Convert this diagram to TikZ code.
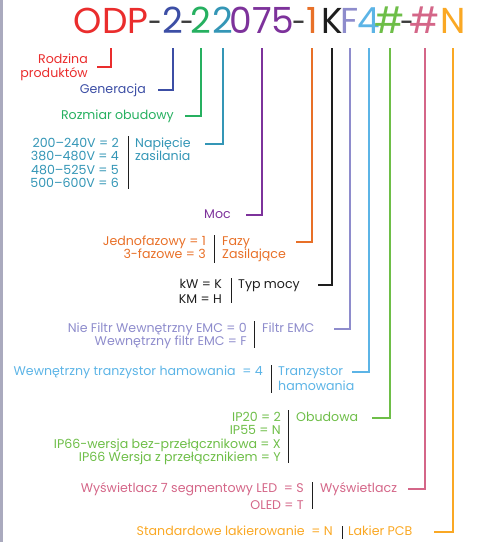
\documentclass[tikz,border=0pt]{standalone}
\usepackage{fontspec}
\setmainfont{Poppins}
\usepackage{graphicx}
\usepackage{tikz}
\usetikzlibrary{positioning}
\definecolor{cRed}{RGB}{234,45,45}
\definecolor{cBlue}{RGB}{60,78,165}
\definecolor{cGreen}{RGB}{38,176,96}
\definecolor{cTeal}{RGB}{52,150,182}
\definecolor{cPurple}{RGB}{125,50,155}
\definecolor{cOrangeD}{RGB}{232,112,40}
\definecolor{cBlack}{RGB}{30,30,30}
\definecolor{cLav}{RGB}{142,140,204}
\definecolor{cSky}{RGB}{92,180,230}
\definecolor{cLime}{RGB}{110,190,72}
\definecolor{cPink}{RGB}{212,102,136}
\definecolor{cOrange}{RGB}{250,168,36}
\definecolor{cDash}{RGB}{60,60,60}
\definecolor{cEdge}{RGB}{170,170,190}
% wiersze wyrownane, linia bazowa = pierwszy wiersz
\newcommand{\rows}[2]{\begin{tabular}[t]{@{}#1@{}}#2\end{tabular}}
\newcommand{\hy}{\scalebox{0.7}[0.85]{-}}
\begin{document}
\begin{tikzpicture}[x=1pt, y=-1pt,
  code/.style={anchor=base, font=\fontsize{36}{36}\selectfont, inner sep=0pt, text depth=0pt, outer ysep=15pt},
  lbl/.style={font=\fontsize{12.6}{13.6}\selectfont, inner sep=0pt},
  vals/.style={lbl, anchor=base east},
  ttl/.style={lbl, anchor=base west},
  lead/.style={line width=1.6pt},
  sepbar/.style={line width=0.8pt, draw=cBlack}]
\useasboundingbox (0,0) rectangle (478,542);
\fill[cEdge] (0,0) rectangle (2.5,542);
% kod produktu
\node[code, text=cRed]     (odp)  at (111,33) {ODP};
\node[code, text=cDash]    (d1)   at (155,33) {\hy};
\node[code, text=cBlue]    (gen2) at (173,33) {2};
\node[code, text=cDash]    (d2)   at (187,33) {\hy};
\node[code, text=cGreen]   (sz2)  at (201,33) {2};
\node[code, text=cTeal]    (nap2) at (223,33) {2};
\node[code, text=cPurple]  (moc)  at (262,33) {075};
\node[code, text=cDash]    (d3)   at (299,33) {\hy};
\node[code, text=cOrangeD] (faz)  at (312,33) {1};
\node[code, text=cBlack]   (typ)  at (332,33) {K};
\node[code, text=cLav]     (emc)  at (350,33) {F};
\node[code, text=cSky]     (trz)  at (369,33) {4};
\node[code, text=cLime]    (obu)  at (390,33) {\#};
\node[code, text=cDash]    (d4)   at (407,33) {\hy};
\node[code, text=cPink]    (wys)  at (425,33) {\#};
\node[code, text=cOrange]  (lak)  at (453,33) {N};
% opisy
\node[vals, text=cRed] (rodzT) at (88,63) {\rows{r}{Rodzina\\produktów}};
\node[vals, text=cBlue] (genT) at (146,93) {Generacja};
\node[vals, text=cGreen] (szT) at (174,119) {Rozmiar obudowy};
\node[vals, text=cTeal] (napV) at (119,147) {\rows{r}{200–240V = 2\\380–480V = 4\\480–525V = 5\\500–600V = 6}};
\node[ttl, text=cTeal] (napT) at (135,147) {\rows{l}{Napięcie\\zasilania}};
\node[vals, text=cPurple] (mocT) at (231,218) {Moc};
\node[vals, text=cOrangeD] (fazV) at (206,245) {\rows{r}{Jednofazowy = 1\\3-fazowe = 3}};
\node[ttl, text=cOrangeD] (fazT) at (222,245) {\rows{l}{Fazy\\Zasilające}};
\node[vals, text=cBlack] (typV) at (222,288) {\rows{r}{kW = K\\[1.5pt]KM = H}};
\node[ttl, text=cBlack] (typT) at (238,288) {Typ mocy};
\node[vals, text=cLav] (emcV) at (247,332) {\rows{r}{Nie Filtr Wewnętrzny EMC = 0\\Wewnętrzny filtr EMC = F}};
\node[ttl, text=cLav] (emcT) at (262,332) {Filtr EMC};
\node[vals, text=cSky] (trzV) at (263,375) {Wewnętrzny tranzystor hamowania\ \ = 4};
\node[ttl, text=cSky] (trzT) at (278,375) {\rows{l}{Tranzystor\\[1.5pt]hamowania}};
\node[vals, text=cLime] (obuV) at (281,421) {\rows{r}{IP20 = 2\\IP55 = N\\IP66-wersja bez-przełącznikowa = X\\IP66 Wersja z przełącznikiem = Y}};
\node[ttl, text=cLime] (obuT) at (296,421) {Obudowa};
\node[vals, text=cPink] (wysV) at (304,492) {\rows{r}{Wyświetlacz 7 segmentowy LED\ \ = S\\[3.5pt]OLED = T}};
\node[ttl, text=cPink] (wysT) at (320,492) {Wyświetlacz};
\node[vals, text=cOrange] (lakV) at (333,535) {Standardowe lakierowanie\ \ = N};
\node[ttl, text=cOrange] (lakT) at (348,535) {Lakier PCB};
% kreski
\draw[sepbar] (128,136) -- (128,189);
\draw[sepbar] (214,235) -- (214,263);
\draw[sepbar] (231,278) -- (231,303);
\draw[sepbar] (254,321) -- (254,348);
\draw[sepbar] (271,365) -- (271,393);
\draw[sepbar] (288,410) -- (288,463);
\draw[sepbar] (312,482) -- (312,509);
\draw[sepbar] (342,526) -- (342,539);
% linie
\draw[lead, cRed]     (odp.south)  |- ([xshift=9pt]rodzT.east);
\draw[lead, cBlue]    (gen2.south) |- ([xshift=12pt]genT.mid east);
\draw[lead, cGreen]   (sz2.south)  |- ([xshift=11pt]szT.mid east);
\draw[lead, cTeal]    (nap2.south) |- ([xshift=14pt]napT.mid east);
\draw[lead, cPurple]  (moc.south)  |- ([xshift=15pt]mocT.mid east);
\draw[lead, cOrangeD] (faz.south)  |- ([xshift=10pt]fazT.mid east);
\draw[lead, cBlack]   (typ.south)  |- ([xshift=18pt]typT.mid east);
\draw[lead, cLav]     (emc.south)  |- ([xshift=19pt]emcT.mid east);
\draw[lead, cSky]     (trz.south)  |- ([xshift=-3pt]trzT.mid east);
\draw[lead, cLime]    (obu.south)  |- ([xshift=14pt]obuT.mid east);
\draw[lead, cPink]    (wys.south)  |- ([xshift=11pt]wysT.mid east);
\draw[lead, cOrange]  (lak.south)  |- ([xshift=21pt]lakT.mid east);
\end{tikzpicture}
\end{document}
